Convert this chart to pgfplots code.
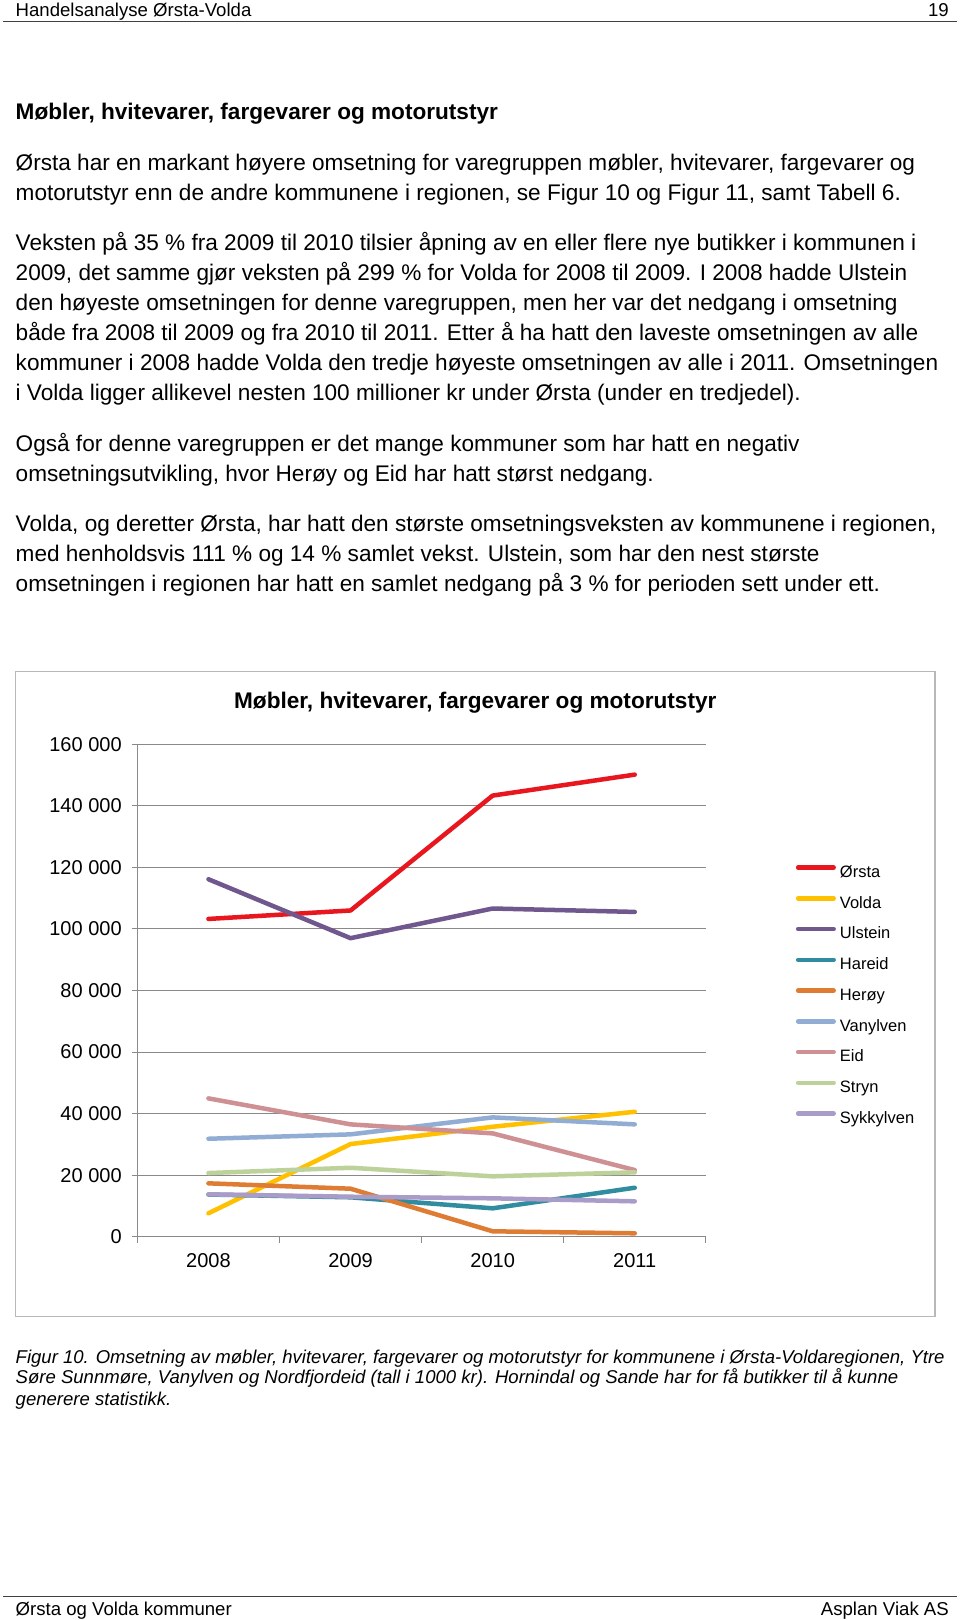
\documentclass[border=0pt]{standalone}
\usepackage{fontspec}
\setmainfont{Liberation Sans}
\usepackage{pgfplots}
\pgfplotsset{compat=1.18}
\definecolor{axgray}{RGB}{137,137,137}
\definecolor{cOrsta}{RGB}{232,22,30}
\definecolor{cVolda}{RGB}{255,192,0}
\definecolor{cUlstein}{RGB}{112,88,142}
\definecolor{cHareid}{RGB}{49,140,160}
\definecolor{cHeroy}{RGB}{222,124,52}
\definecolor{cVanylven}{RGB}{145,173,212}
\definecolor{cEid}{RGB}{206,144,146}
\definecolor{cStryn}{RGB}{188,210,154}
\definecolor{cSykkylven}{RGB}{170,156,200}
\newcommand\hdrfont{\fontsize{18.6}{22}\selectfont}
\newcommand\bodyfont{\fontsize{22.6}{30}\selectfont}
\newcommand\capfont{\fontsize{18.55}{21}\selectfont\itshape}
\newcommand\tickfont{\fontsize{20}{24}\selectfont}
\newcommand\legfont{\fontsize{16.5}{20}\selectfont}
\begin{document}
\begin{tikzpicture}[x=1pt,y=1pt]
\fill[white] (0,0) rectangle (960,1620);
% header
\node[anchor=base west,inner sep=0,font=\hdrfont] at (15.5,1620-17) {Handelsanalyse Ørsta-Volda};
\node[anchor=base east,inner sep=0,font=\hdrfont] at (949,1620-17) {19};
\draw[line width=1.5pt,black!75] (3,1620-21.5) -- (957,1620-21.5);
% title
\node[anchor=base west,inner sep=0,font=\bodyfont\bfseries] at (15.5,1620-119.7) {Møbler, hvitevarer, fargevarer og motorutstyr};
% paragraphs
\begin{scope}[every node/.style={anchor=base west,inner sep=0,font=\bodyfont}]
\node at (15.5,1620-170.2) {Ørsta har en markant høyere omsetning for varegruppen møbler, hvitevarer, fargevarer og};
\node at (15.5,1620-200.2) {motorutstyr enn de andre kommunene i regionen, se Figur 10 og Figur 11, samt Tabell 6.};
\node at (15.5,1620-250.8) {Veksten på 35 \% fra 2009 til 2010 tilsier åpning av en eller flere nye butikker i kommunen i};
\node at (15.5,1620-280.8) {2009, det samme gjør veksten på 299 \% for Volda for 2008 til 2009. I 2008 hadde Ulstein};
\node at (15.5,1620-310.8) {den høyeste omsetningen for denne varegruppen, men her var det nedgang i omsetning};
\node at (15.5,1620-340.8) {både fra 2008 til 2009 og fra 2010 til 2011. Etter å ha hatt den laveste omsetningen av alle};
\node at (15.5,1620-370.7) {kommuner i 2008 hadde Volda den tredje høyeste omsetningen av alle i 2011. Omsetningen};
\node at (15.5,1620-400.7) {i Volda ligger allikevel nesten 100 millioner kr under Ørsta (under en tredjedel).};
\node at (15.5,1620-451.3) {Også for denne varegruppen er det mange kommuner som har hatt en negativ};
\node at (15.5,1620-481.3) {omsetningsutvikling, hvor Herøy og Eid har hatt størst nedgang.};
\node at (15.5,1620-531.9) {Volda, og deretter Ørsta, har hatt den største omsetningsveksten av kommunene i regionen,};
\node at (15.5,1620-561.9) {med henholdsvis 111 \% og 14 \% samlet vekst. Ulstein, som har den nest største};
\node at (15.5,1620-591.9) {omsetningen i regionen har hatt en samlet nedgang på 3 \% for perioden sett under ett.};
\end{scope}
% chart frame
\draw[line width=1.5pt,black!28] (15.5,1620-671.7) rectangle (935.2,1620-1316.6);
\node[anchor=base,inner sep=0,font=\bodyfont\bfseries] at (475.3,1620-708.7) {Møbler, hvitevarer, fargevarer og motorutstyr};
\begin{axis}[
  at={(137.4pt,383.3pt)}, anchor=south west,
  scale only axis, width=568.4pt, height=492.4pt,
  xmin=-0.5, xmax=3.5, ymin=0, ymax=160000,
  axis x line*=bottom, axis y line*=left,
  axis line style={-,axgray,line width=1pt},
  x axis line style={-}, y axis line style={-},
  xtick={0,1,2,3}, xticklabels={2008,2009,2010,2011},
  minor xtick={-0.5,0.5,1.5,2.5,3.5},
  ytick={0,20000,40000,60000,80000,100000,120000,140000,160000},
  yticklabels={0,20 000,40 000,60 000,80 000,100 000,120 000,140 000,160 000},
  scaled y ticks=false,
  ymajorgrids, grid style={axgray,line width=1pt},
  tick align=outside, major tick length=5pt, minor tick length=6pt,
  major x tick style={draw=none},
  minor x tick style={axgray,line width=1pt},
  y tick style={axgray,line width=1pt},
  ticklabel style={font=\tickfont},
  yticklabel style={xshift=-7.2pt},
  xticklabel style={yshift=-8.3pt},
  clip=false,
  every axis plot/.append style={line width=4.5pt,line cap=round,line join=round},
  legend cell align=left,
  legend style={draw=none,fill=none,inner sep=0pt,font=\legfont,
    at={(1.1582,0.7547)},anchor=north west,row sep=14.6pt,
    nodes={inner sep=0pt,text height=12pt,text depth=4pt},
    /tikz/every odd column/.append style={column sep=4pt}},
  legend image code/.code={\draw[#1] (2.25pt,5.9pt) -- (37.75pt,5.9pt);},
]
\addplot[cOrsta] coordinates {(0,103250) (1,106000) (2,143330) (3,150140)};
\addlegendentry{Ørsta}
\addplot[cVolda] coordinates {(0,7600) (1,30100) (2,35720) (3,40590)};
\addlegendentry{Volda}
\addplot[cUlstein] coordinates {(0,116150) (1,97000) (2,106640) (3,105530)};
\addlegendentry{Ulstein}
\addplot[cHareid] coordinates {(0,13700) (1,12800) (2,9220) (3,15910)};
\addlegendentry{Hareid}
\addplot[cHeroy] coordinates {(0,17340) (1,15590) (2,1750) (3,1100)};
\addlegendentry{Herøy}
\addplot[cVanylven] coordinates {(0,31820) (1,33250) (2,38770) (3,36500)};
\addlegendentry{Vanylven}
\addplot[cEid] coordinates {(0,44940) (1,36500) (2,33570) (3,21650)};
\addlegendentry{Eid}
\addplot[cStryn] coordinates {(0,20680) (1,22400) (2,19610) (3,20910)};
\addlegendentry{Stryn}
\addplot[cSykkylven] coordinates {(0,13770) (1,12990) (2,12470) (3,11490)};
\addlegendentry{Sykkylven}
\end{axis}
% caption
\begin{scope}[every node/.style={anchor=base west,inner sep=0,font=\capfont}]
\node at (15.5,1620-1363.2) {Figur 10. Omsetning av møbler, hvitevarer, fargevarer og motorutstyr for kommunene i Ørsta-Voldaregionen, Ytre};
\node at (15.5,1620-1384) {Søre Sunnmøre, Vanylven og Nordfjordeid (tall i 1000 kr). Hornindal og Sande har for få butikker til å kunne};
\node at (15.5,1620-1405.7) {generere statistikk.};
\end{scope}
% footer
\draw[line width=1.5pt,black!75] (3,1620-1596.6) -- (957,1620-1596.6);
\node[anchor=base west,inner sep=0,font=\hdrfont] at (15.5,1620-1615) {Ørsta og Volda kommuner};
\node[anchor=base east,inner sep=0,font=\hdrfont] at (949,1620-1615) {Asplan Viak AS};
\end{tikzpicture}
\end{document}
